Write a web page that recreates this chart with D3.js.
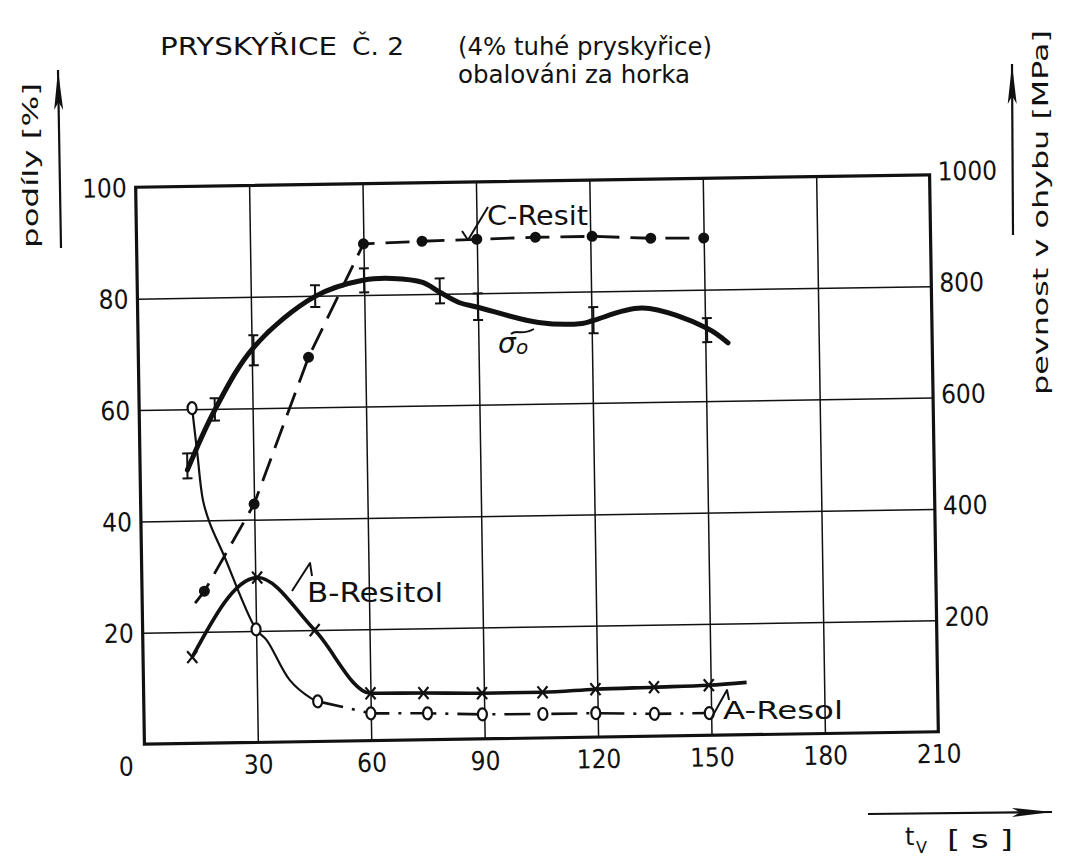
<!DOCTYPE html>
<html lang="cs">
<head>
<meta charset="utf-8">
<title>Pryskyřice č. 2</title>
<script src="https://cdn.jsdelivr.net/npm/d3@7/dist/d3.min.js"></script>
<style>
  html, body { margin: 0; padding: 0; background: #fff; }
  svg { display: block; }
</style>
</head>
<body>
<svg id="chart" width="1065" height="865"></svg>
<script>
// ---- axis ticks ----
const timeTicks = [0, 30, 60, 90, 120, 150, 180, 210];      // t_V [s]
const shareTicks = [20, 40, 60, 80, 100];                      // podíly [%]
const strengthTicks = [200, 400, 600, 800, 1000];              // pevnost v ohybu [MPa]

// ---- σo: bending strength, mean and spread [MPa] ----
const sigmaTime = [12.5, 20, 30.5, 47, 60, 80, 90, 120.5, 150.5];
const sigmaMean = [499, 599, 704, 800, 827, 806, 776, 748, 727];
const sigmaLow  = [476, 579, 677, 780, 805, 783, 752, 725, 706];
const sigmaHigh = [521, 619, 731, 819, 848, 828, 800, 772, 749];
// faired σo curve
const sigmaCurveTime  = [12.5, 20, 30.5, 47, 60, 67.5, 75.5, 80, 85, 90, 106, 117.5, 120.5, 133.5, 150.5, 156];
const sigmaCurveValue = [491, 598, 709, 799, 827, 829, 821, 803, 784, 775, 746, 743, 748, 769, 731, 704];

// ---- C – Resit [%] ----
const resitTime  = [16.5, 30, 45, 60, 75.5, 90, 105.5, 120.5, 136, 150];
const resitShare = [27.3, 42.8, 69, 89.2, 89.5, 89.7, 89.9, 89.9, 89.4, 89.3];
const resitStart = [14, 25.2];

// ---- B – Resitol [%] ----
const resitolTime  = [13, 30.5, 45.5, 60, 74, 89.5, 105.5, 119.5, 135, 149.5];
const resitolShare = [15.5, 29.6, 20, 8.5, 8.4, 8.2, 8.2, 8.6, 8.8, 9.0];
const resitolEnd = [159.5, 9.4];

// ---- A – Resol [%] ----
const resolTime  = [14, 30, 46, 60, 75, 89.5, 105.5, 119.5, 135, 149.5];
const resolShare = [60.2, 20.3, 7.2, 4.9, 4.75, 4.4, 4.3, 4.3, 4.0, 4.0];
// faired falling branch of Resol
const resolCurveTime  = [14, 15.2, 16.5, 18.2, 21.6, 30, 32.8, 38.7, 44.2, 46];
const resolCurveShare = [60.2, 52, 43.6, 39.5, 34, 20.3, 18.3, 11.1, 7.8, 7.2];

// ---- layout ----
const W = 794, H = 557;
const INK = "#111";
const SANS = "'DejaVu Sans', 'Liberation Sans', sans-serif";
const DIGITS = "'Liberation Sans Narrow', 'DejaVu Sans Condensed', 'DejaVu Sans', sans-serif";

const x = d3.scaleLinear().domain([0, 210]).range([0, W]);
const yShare = d3.scaleLinear().domain([0, 100]).range([H, 0]);
const yStrength = d3.scaleLinear().domain([0, 1000]).range([H, 0]);

const svg = d3.select("#chart");
svg.append("rect").attr("width", 1065).attr("height", 865).attr("fill", "#fff");

// the graph sheet sits slightly askew
const plot = svg.append("g").attr("transform", "rotate(-0.9 537 459.25) translate(140 181)");

// grid
plot.append("g")
  .call(d3.axisBottom(x).tickValues(timeTicks.slice(1, -1)).tickSize(H).tickFormat(""))
  .call(g => g.select(".domain").remove())
  .selectAll("line").attr("stroke", INK).attr("stroke-width", 1.5);
plot.append("g")
  .call(d3.axisLeft(yShare).tickValues(shareTicks.slice(0, -1)).tickSize(-W).tickFormat(""))
  .call(g => g.select(".domain").remove())
  .selectAll("line").attr("stroke", INK).attr("stroke-width", 1.5);

// frame
plot.append("rect").attr("width", W).attr("height", H)
  .attr("fill", "none").attr("stroke", INK).attr("stroke-width", 3.2);

// tick labels
const plain = d3.format("d");
const xLabels = plot.append("g").attr("transform", `translate(0,${H})`)
  .call(d3.axisBottom(x).tickValues(timeTicks).tickFormat(plain).tickSize(0).tickPadding(0))
  .call(g => g.select(".domain").remove());
xLabels.selectAll("text")
  .attr("y", 22).attr("dy", "0.35em").attr("dx", d => d === 0 ? -19 : 0)
  .attr("font-family", DIGITS).attr("font-size", 26).attr("fill", INK);

const leftLabels = plot.append("g")
  .call(d3.axisLeft(yShare).tickValues(shareTicks).tickFormat(plain).tickSize(0).tickPadding(9))
  .call(g => g.select(".domain").remove());
leftLabels.selectAll("text")
  .attr("dy", "0.35em").attr("font-family", DIGITS).attr("font-size", 26).attr("fill", INK);

const rightLabels = plot.append("g").attr("transform", `translate(${W},0)`)
  .call(d3.axisRight(yStrength).tickValues(strengthTicks).tickFormat(plain).tickSize(0).tickPadding(8))
  .call(g => g.select(".domain").remove());
rightLabels.selectAll("text")
  .attr("dy", "0.2em").attr("font-family", DIGITS).attr("font-size", 26).attr("fill", INK);

// ---- series ----
const shareLine = d3.line().x(d => x(d[0])).y(d => yShare(d[1]));
const strengthLine = d3.line().x(d => x(d[0])).y(d => yStrength(d[1]));

// C – Resit: dashed, filled dots
plot.append("path")
  .datum([resitStart, ...d3.zip(resitTime, resitShare)])
  .attr("d", shareLine)
  .attr("fill", "none").attr("stroke", INK).attr("stroke-width", 2.8)
  .attr("stroke-dasharray", "24 11");
plot.append("g").selectAll("circle")
  .data(d3.zip(resitTime, resitShare)).join("circle")
  .attr("cx", d => x(d[0])).attr("cy", d => yShare(d[1])).attr("r", 5.5).attr("fill", INK);

// B – Resitol: solid, crosses
plot.append("path")
  .datum([...d3.zip(resitolTime, resitolShare), resitolEnd])
  .attr("d", d3.line().x(d => x(d[0])).y(d => yShare(d[1])).curve(d3.curveMonotoneX))
  .attr("fill", "none").attr("stroke", INK).attr("stroke-width", 3.6);
plot.append("g").selectAll("path")
  .data(d3.zip(resitolTime, resitolShare)).join("path")
  .attr("transform", d => `translate(${x(d[0])},${yShare(d[1])})`)
  .attr("d", "M-5,-6L5,6M5,-6L-5,6")
  .attr("stroke", INK).attr("stroke-width", 2.2).attr("fill", "none");

// A – Resol: solid falling branch, then dash-dot
plot.append("path")
  .datum(d3.zip(resolCurveTime, resolCurveShare))
  .attr("d", d3.line().x(d => x(d[0])).y(d => yShare(d[1])).curve(d3.curveCatmullRom.alpha(0.5)))
  .attr("fill", "none").attr("stroke", INK).attr("stroke-width", 2.2);
plot.append("path")
  .datum(d3.zip(resolTime, resolShare).slice(2))
  .attr("d", shareLine)
  .attr("fill", "none").attr("stroke", INK).attr("stroke-width", 2.6)
  .attr("stroke-dasharray", "26 9 3 9");
plot.append("g").selectAll("ellipse")
  .data(d3.zip(resolTime, resolShare)).join("ellipse")
  .attr("cx", d => x(d[0])).attr("cy", d => yShare(d[1]))
  .attr("rx", 4.5).attr("ry", 6)
  .attr("fill", "#fff").attr("stroke", INK).attr("stroke-width", 2.2);

// σo: thick faired curve with spread bars
plot.append("path")
  .datum(d3.zip(sigmaCurveTime, sigmaCurveValue))
  .attr("d", strengthLine.curve(d3.curveCatmullRom.alpha(0.5)))
  .attr("fill", "none").attr("stroke", INK).attr("stroke-width", 5)
  .attr("stroke-linecap", "round");
const bars = plot.append("g").selectAll("g")
  .data(d3.zip(sigmaTime, sigmaLow, sigmaHigh, sigmaMean)).join("g")
  .attr("stroke", INK).attr("stroke-width", 2);
bars.append("line")
  .attr("x1", d => x(d[0])).attr("x2", d => x(d[0]))
  .attr("y1", d => yStrength(d[1])).attr("y2", d => yStrength(d[2]));
bars.append("line")
  .attr("x1", d => x(d[0]) - 5).attr("x2", d => x(d[0]) + 5)
  .attr("y1", d => yStrength(d[1])).attr("y2", d => yStrength(d[1]));
bars.append("line")
  .attr("x1", d => x(d[0]) - 5).attr("x2", d => x(d[0]) + 5)
  .attr("y1", d => yStrength(d[2])).attr("y2", d => yStrength(d[2]));

// ---- series names with leader strokes ----
function label(txt, px, py, len, size) {
  svg.append("text").attr("x", px).attr("y", py)
    .attr("font-family", SANS).attr("font-size", size).attr("fill", INK)
    .attr("textLength", len).attr("lengthAdjust", "spacingAndGlyphs")
    .text(txt);
}
function stroke(d, w) {
  svg.append("path").attr("d", d).attr("fill", "none")
    .attr("stroke", INK).attr("stroke-width", w || 2).attr("stroke-linejoin", "round");
}
label("C-Resit", 487, 225, 101, 26);
stroke("M462,231 L468,240 L488,207");
label("B-Resitol", 307, 602, 136, 26);
stroke("M292,591 L310,563 L312,576");
label("A-Resol", 723, 719, 120, 24);
stroke("M712,717 L727,690 L729,700");

// σo
svg.append("text").attr("x", 498).attr("y", 353)
  .attr("font-family", SANS).attr("font-size", 28).attr("font-style", "italic").attr("fill", INK)
  .text("σ");
svg.append("text").attr("x", 516).attr("y", 354)
  .attr("font-family", SANS).attr("font-size", 20).attr("font-style", "italic").attr("fill", INK)
  .text("o");
stroke("M511,334 C516,329 522,336 534,329", 2);

// ---- titles ----
label("PRYSKYŘICE", 160, 55, 177, 24);
label("Č. 2", 352, 55, 52, 24);
label("(4% tuhé pryskyřice)", 458, 55, 254, 24);
label("obalováni za horka", 458, 83, 232, 24);

// axis captions
svg.append("text").attr("transform", "translate(38,248) rotate(-90)")
  .attr("font-family", SANS).attr("font-size", 22).attr("fill", INK)
  .attr("textLength", 165).attr("lengthAdjust", "spacingAndGlyphs")
  .text("podíly [%]");
svg.append("text").attr("transform", "translate(1048,395) rotate(-90)")
  .attr("font-family", SANS).attr("font-size", 22).attr("fill", INK)
  .attr("textLength", 365).attr("lengthAdjust", "spacingAndGlyphs")
  .text("pevnost v ohybu [MPa]");

// arrows
function arrow(x1, y1, x2, y2) {
  stroke(`M${x1},${y1} L${x2},${y2}`, 2.2);
  const a = Math.atan2(y2 - y1, x2 - x1), L = 40, w = 4.5;
  const bx = x2 - L * Math.cos(a), by = y2 - L * Math.sin(a);
  const nx = -Math.sin(a) * w, ny = Math.cos(a) * w;
  svg.append("path")
    .attr("d", `M${x2},${y2} L${bx + nx},${by + ny} L${x2 - 0.8 * L * Math.cos(a)},${y2 - 0.8 * L * Math.sin(a)} L${bx - nx},${by - ny} Z`)
    .attr("fill", INK);
}
arrow(61, 248, 58, 70);
arrow(1013, 235, 1012, 64);
arrow(868, 814, 1052, 812);

// t_V [s]
svg.append("text").attr("x", 905).attr("y", 845)
  .attr("font-family", SANS).attr("font-size", 24).attr("fill", INK).text("t");
svg.append("text").attr("x", 916).attr("y", 853)
  .attr("font-family", SANS).attr("font-size", 16).attr("fill", INK).text("V");
label("[ s ]", 947, 848, 66, 24);
</script>
</body>
</html>
